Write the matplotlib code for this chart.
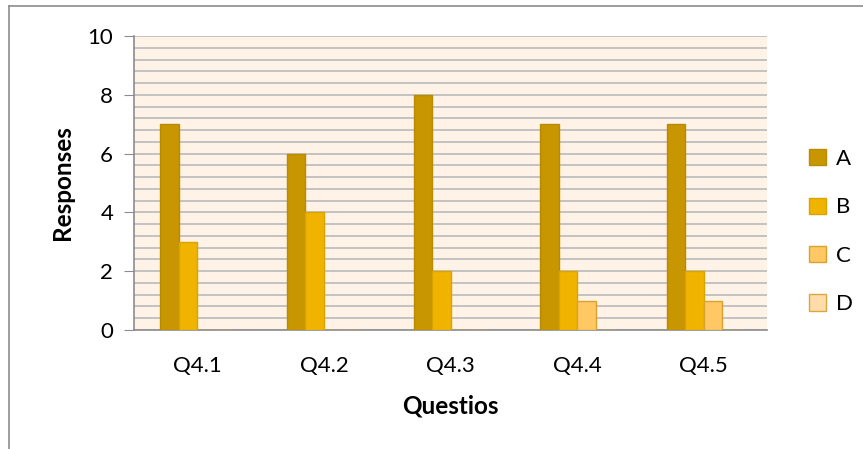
import matplotlib.pyplot as plt
from matplotlib.ticker import MultipleLocator
from matplotlib.lines import Line2D
import numpy as np

questions = ['Q4.1', 'Q4.2', 'Q4.3', 'Q4.4', 'Q4.5']
series = ['A', 'B', 'C', 'D']
A = [7, 6, 8, 7, 7]
B = [3, 4, 2, 2, 2]
C = [0, 0, 0, 1, 1]
D = [0, 0, 0, 0, 0]

fills = ['#C89600', '#F0B400', '#FFC864', '#FFDCAA']
edges = ['#B98B00', '#D9A300', '#D9A22C', '#D9A640']

plt.rcParams['font.family'] = ['Lato', 'DejaVu Sans']

fig = plt.figure(figsize=(8.63, 4.49), dpi=100)
ax = fig.add_axes([134 / 863, 1 - 330 / 449, 633 / 863, 294 / 449])
ax.set_facecolor('#FFF2E6')

x = np.arange(len(questions))
w = 0.146
for k, (vals, name) in enumerate(zip([A, B, C, D], series)):
    ax.bar(x + (k - 1.5) * w, vals, w, color=fills[k], edgecolor=edges[k],
           linewidth=1, label=name, zorder=3)

ax.set_xlim(-0.5, 4.5)
ax.set_ylim(0, 10)
ax.yaxis.set_major_locator(MultipleLocator(2))
ax.yaxis.set_minor_locator(MultipleLocator(0.4))
ax.grid(axis='y', which='both', color='#BFBFBF', linewidth=1.3, zorder=0)
ax.tick_params(axis='y', which='minor', length=0)
ax.tick_params(axis='y', which='major', length=7, color='#8C8C8C', labelsize=16, pad=8)
ax.tick_params(axis='x', length=0, labelsize=16, pad=19)
ax.set_xticks(x)
ax.set_xticklabels(questions)

for s in ['top', 'right']:
    ax.spines[s].set_visible(False)
for s in ['left', 'bottom']:
    ax.spines[s].set_color('#8C8C8C')
    ax.spines[s].set_linewidth(1.2)

ax.set_ylabel('Responses', fontsize=17.5, fontweight='bold', labelpad=10)
ax.set_xlabel('Questios', fontsize=17.5, fontweight='bold', labelpad=13)

handles = [plt.Rectangle((0, 0), 1, 1, facecolor=fills[k], edgecolor=edges[k])
           for k in range(4)]
fig.legend(handles, series, loc='upper left', bbox_to_anchor=(809 / 863, 1 - 149 / 449),
           frameon=False, fontsize=16, handlelength=0.75, handleheight=0.75,
           handletextpad=0.45, labelspacing=1.28, borderpad=0, borderaxespad=0)

# partial outer border of the chart
fig.add_artist(Line2D([9 / 863, 9 / 863], [0, 1 - 6 / 449], color='#8C8C8C', lw=1.2,
                      transform=fig.transFigure))
fig.add_artist(Line2D([9 / 863, 1], [1 - 6 / 449, 1 - 6 / 449], color='#8C8C8C', lw=1.2,
                      transform=fig.transFigure))

fig.savefig('out.png', dpi=100)
